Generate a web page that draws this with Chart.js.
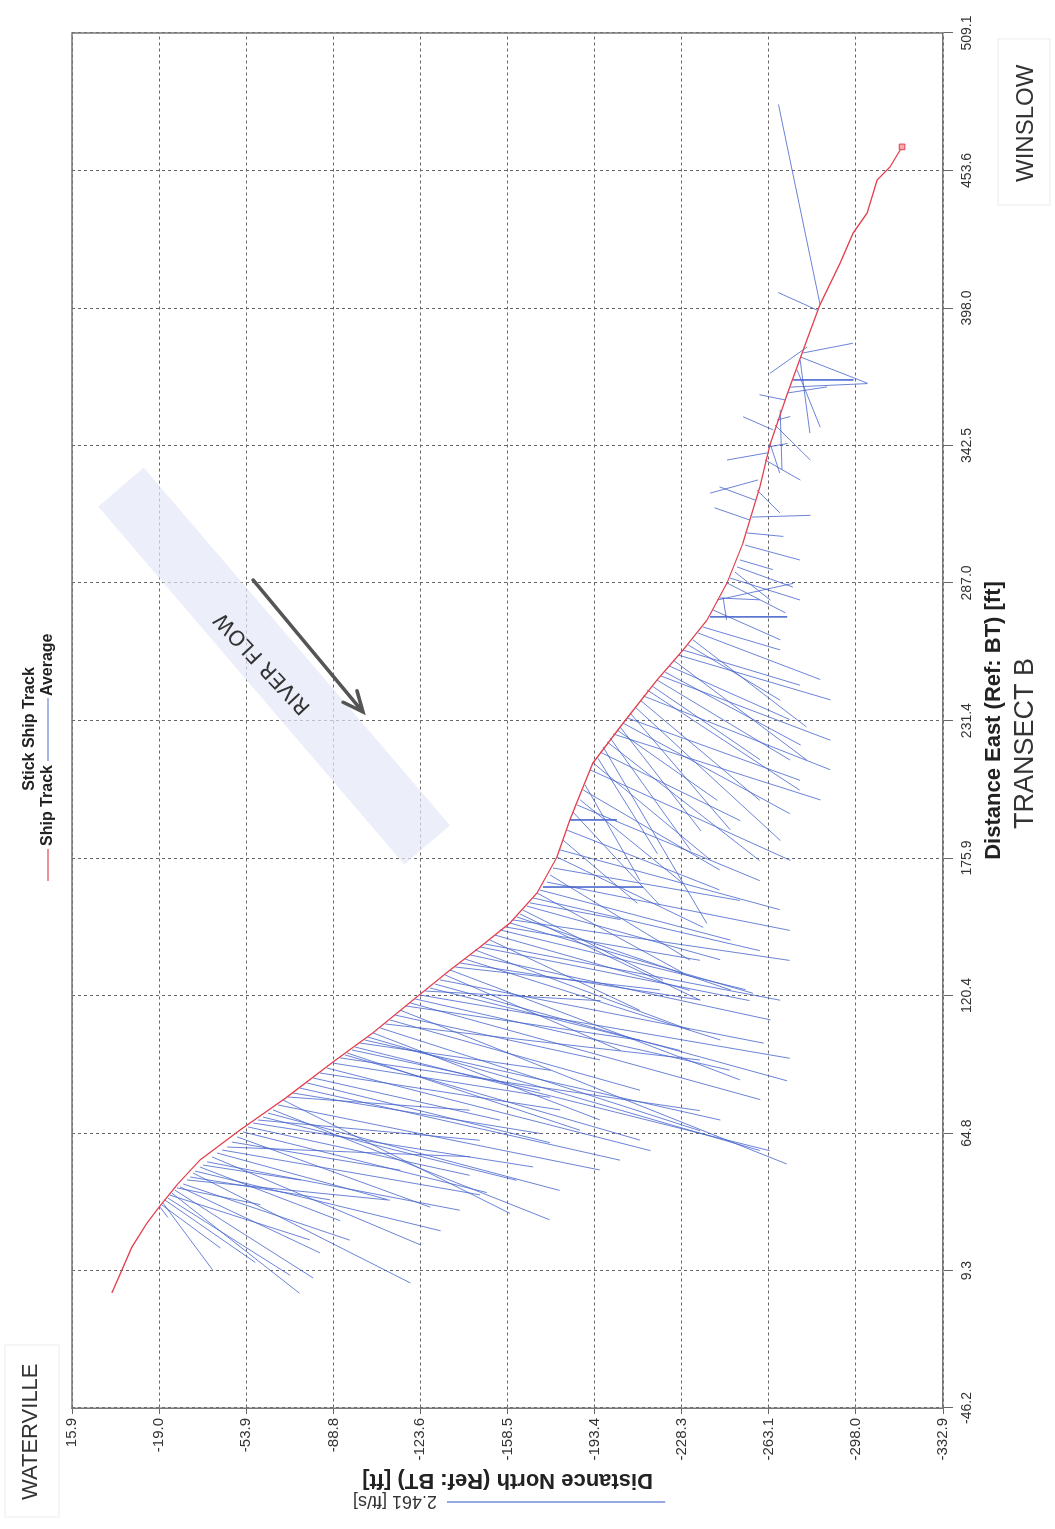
<!DOCTYPE html>
<html>
<head>
<meta charset="utf-8">
<title>Stick Ship Track - Transect B</title>
<script src="https://cdn.jsdelivr.net/npm/chart.js@4.4.0/dist/chart.umd.min.js"></script>
<style>
  html, body { margin: 0; padding: 0; background: #fff; }
  body { width: 1055px; height: 1529px; overflow: hidden; position: relative; }
  /* the scanned plot is turned a quarter turn, so the chart is drawn upright and rotated */
  #wrap { position: absolute; left: -237px; top: 237px; width: 1529px; height: 1055px; transform: rotate(-90deg); }
</style>
</head>
<body>
<div id="wrap"><canvas id="stickChart" width="1529" height="1055"></canvas></div>
<script>
const FONT = "'Liberation Sans Narrow', 'Liberation Sans', Arial, sans-serif";

// axis ticks [ft]
const eastTicks = [-46.2, 9.3, 64.8, 120.4, 175.9, 231.4, 287.0, 342.5, 398.0, 453.6, 509.1];
const northTicks = [-332.9, -298.0, -263.1, -228.3, -193.4, -158.5, -123.6, -88.8, -53.9, -19.0, 15.9];

// ship track (ref: bottom track) [ft]
const trackEast = [0.3, 9.5, 18.8, 28.5, 35.4, 43.9, 54.0, 66.1, 79.4, 93.5,
  105.3, 118.6, 130.7, 140.0, 149.7, 161.8, 176.3, 191.3, 201.4, 214.3,
  230.4, 247.8, 259.9, 272.0, 287.0, 303.1, 325.8, 342.7, 362.9, 385.1,
  399.3, 416.2, 428.3, 436.4, 449.7, 455.0, 463.1];
const trackNorth = [-0.1, -4.1, -8.1, -14.1, -19.3, -26.1, -35.4, -51.4, -70.2, -88.6,
  -104.6, -120.7, -135.5, -147.5, -159.5, -170.3, -178.3, -183.5, -187.5, -192.7,
  -204.8, -218.4, -228.8, -238.4, -246.4, -252.8, -259.6, -263.6, -270.4, -278.4,
  -283.6, -291.7, -296.9, -302.5, -306.5, -311.7, -316.5];

// stick origins on the track [ft]
const stickEast = [35.0, 35.8, 36.6, 37.8, 38.6, 39.8, 40.6, 41.8, 42.7, 43.1,
  44.3, 45.9, 47.1, 48.7, 49.5, 51.1, 51.9, 53.2, 55.2, 56.8,
  58.0, 59.2, 61.2, 63.3, 65.3, 67.3, 68.9, 70.1, 71.3, 72.9,
  74.2, 76.2, 78.2, 79.4, 81.0, 83.0, 85.1, 87.1, 89.1, 91.1,
  93.1, 95.2, 96.4, 97.2, 98.4, 99.6, 101.2, 102.4, 103.6, 105.3,
  107.3, 108.9, 110.5, 112.5, 114.5, 116.2, 117.4, 119.0, 120.6, 122.2,
  123.4, 125.0, 126.7, 128.7, 130.7, 131.9, 133.5, 135.1, 136.8, 138.8,
  140.0, 141.2, 142.8, 144.8, 146.9, 148.1, 149.7, 150.9, 152.1, 153.3,
  154.9, 156.5, 157.8, 159.8, 161.8, 163.0, 164.2, 166.2, 169.1, 171.9,
  176.3, 179.2, 183.2, 187.2, 191.3, 194.5, 197.3, 199.4, 203.4, 205.4,
  211.5, 214.3, 216.7, 218.7, 220.8, 222.8, 224.4, 226.0, 227.6, 228.8,
  230.4, 232.5, 234.5, 236.9, 239.7, 241.4, 243.8, 245.4, 247.8, 249.4,
  251.0, 253.5, 255.9, 257.9, 259.9, 262.0, 264.0, 266.8, 269.2, 273.3,
  276.1, 280.1, 280.9, 281.3, 287.0, 289.0, 291.4, 293.5, 296.3, 302.3,
  307.2, 312.4, 313.6, 320.5, 324.5, 328.6, 336.7, 339.5, 341.9, 343.5,
  348.8, 350.8, 352.8, 356.9, 360.9, 363.7, 366.1, 369.0, 373.0, 377.0,
  378.3, 379.9, 382.3, 397.2, 399.3];
const stickNorth = [-19.3, -20.1, -20.5, -21.3, -22.5, -23.3, -24.1, -25.3, -26.1, -27.3,
  -28.6, -30.1, -31.4, -32.6, -33.4, -35.4, -36.6, -38.2, -40.2, -42.2,
  -44.2, -46.2, -48.2, -50.2, -52.6, -54.6, -56.6, -58.6, -60.6, -62.6,
  -64.6, -66.6, -68.6, -70.6, -72.6, -75.4, -78.2, -80.6, -83.4, -86.2,
  -88.6, -91.4, -93.4, -94.2, -96.2, -97.4, -99.4, -101.4, -102.6, -104.6,
  -107.5, -109.5, -111.5, -113.5, -115.5, -117.5, -119.5, -121.5, -123.5, -125.5,
  -127.5, -129.5, -131.5, -133.5, -135.5, -137.5, -139.5, -141.5, -143.5, -145.5,
  -147.5, -149.5, -151.5, -153.5, -155.5, -157.5, -159.5, -160.7, -162.3, -163.5,
  -164.7, -166.3, -167.5, -168.7, -170.3, -171.5, -172.7, -174.3, -175.5, -176.7,
  -178.3, -179.5, -180.7, -182.3, -183.5, -184.7, -186.4, -187.6, -188.8, -189.6,
  -191.6, -192.8, -194.4, -195.6, -196.8, -198.4, -199.6, -200.8, -202.4, -203.6,
  -204.8, -206.4, -207.6, -209.6, -211.6, -212.8, -214.4, -216.4, -218.4, -220.0,
  -221.6, -223.2, -224.8, -226.8, -228.8, -230.8, -232.8, -234.8, -236.8, -239.6,
  -240.8, -242.4, -243.6, -244.8, -246.4, -247.6, -249.6, -250.4, -251.6, -253.6,
  -254.4, -255.6, -256.4, -257.6, -258.4, -258.8, -261.6, -262.4, -262.8, -263.6,
  -264.9, -265.6, -266.4, -267.7, -269.7, -270.5, -271.7, -272.9, -274.5, -275.7,
  -275.7, -276.9, -278.5, -282.5, -283.7];

// depth averaged velocity components [ft/s]
const stickVE = [-0.12, -0.49, -0.76, -0.71, -0.88, -0.51, -1.14, -1.00, -0.19, -0.75,
  -0.64, -0.23, -0.26, -1.25, -0.68, -0.61, -0.17, -0.55, -1.00, -0.53,
  -0.51, -0.11, -0.32, -0.80, -0.69, -0.55, -0.50, -0.23, -0.72, -0.88,
  -1.25, -0.74, -1.29, -0.15, -0.46, -0.82, -0.68, -0.48, -0.42, -0.94,
  -0.39, -0.60, -0.97, -0.88, -0.46, -1.18, -0.31, -0.91, -1.29, -0.99,
  -1.17, -0.41, -0.80, -0.51, -1.75, -0.39, -1.10, -0.81, -0.72, -0.11,
  -0.71, -1.10, -0.72, -0.86, -1.25, -0.26, -0.42, -0.92, -0.74, -0.91,
  -0.61, -0.64, -0.80, -0.63, -0.68, -0.38, -0.80, -0.46, -0.83, -0.98,
  -0.80, -0.61, -0.19, -0.60, -0.91, -0.57, 0.00, -0.55, -0.97, -0.37,
  -0.80, -0.68, -0.72, -0.68, 0.00, -1.06, -0.86, -0.95, -0.91, -1.09,
  -1.03, -1.10, -1.10, -0.78, -2.01, -1.35, -1.28, -0.75, -0.80, -1.18,
  -1.03, -0.71, -1.33, -1.52, -1.14, -0.84, -1.14, -0.84, -0.91, -0.73,
  -0.83, -0.61, -1.14, -0.51, -0.40, -0.63, -0.99, -0.53, -0.26, 0.00,
  -0.34, 0.19, -0.02, -0.26, -0.34, -0.25, -0.32, -0.23, -0.11, -0.17,
  -0.04, 0.14, 0.02, 0.15, -0.26, -0.15, -0.23, -0.08, 0.04, -0.34,
  0.15, -0.40, 0.04, -0.68, 0.06, 0.07, 0.04, 0.00, -0.65, -0.83,
  -0.30, 0.11, -0.30, 0.20, 2.28];
const stickVN = [-0.09, -0.66, -0.56, -1.02, -1.38, -1.58, -1.44, -1.56, -0.94, -1.58,
  -1.88, -2.29, -1.58, -2.45, -2.77, -1.58, -1.10, -2.85, -2.35, -1.92,
  -2.91, -2.74, -1.90, -2.18, -2.75, -2.50, -3.16, -2.50, -2.86, -3.29,
  -3.12, -3.63, -2.56, -2.05, -2.79, -3.61, -2.74, -2.11, -2.71, -3.65,
  -2.45, -4.06, -3.33, -2.63, -2.12, -4.68, -2.15, -4.01, -4.42, -2.56,
  -3.61, -3.55, -2.82, -2.31, -4.36, -2.65, -3.95, -3.55, -4.17, -1.98,
  -2.82, -3.97, -3.65, -1.98, -3.27, -2.31, -2.71, -2.88, -3.39, -2.42,
  -3.04, -3.33, -1.69, -2.20, -2.77, -2.20, -2.74, -3.12, -2.41, -2.03,
  -1.58, -2.18, -1.02, -2.56, -1.65, -2.15, -1.13, -2.74, -1.58, -2.11,
  -1.65, -2.48, -0.84, -1.72, -0.53, -0.98, -2.06, -1.16, -1.54, -0.62,
  -2.26, -1.32, -0.68, -1.58, -1.17, -1.72, -0.91, -2.34, -1.13, -0.91,
  -1.88, -1.95, -1.13, -1.64, -1.35, -2.11, -1.72, -1.22, -1.50, -1.91,
  -1.53, -1.36, -1.51, -1.72, -1.32, -1.04, -1.28, -1.38, -0.87, -0.87,
  -0.76, -0.86, -0.45, -0.04, -0.66, -0.79, -0.40, -0.63, -0.37, -0.62,
  -0.41, 0.40, -0.66, 0.40, -0.26, 0.54, -0.40, 0.45, -0.22, -0.11,
  0.34, -0.40, -0.15, -0.02, 0.29, -0.45, -0.87, -0.68, -0.26, -0.11,
  -0.76, -0.56, 0.42, 0.44, 0.47];

const refSpeed = 2.461;   // ft/s, scale bar
const stickScale = 35.5;  // ft of stick per ft/s

const trackPts = trackEast.map((e, i) => ({ x: e, y: trackNorth[i] }));
const stickPts = [];
stickEast.forEach((e, i) => {
  stickPts.push({ x: e, y: stickNorth[i] });
  stickPts.push({ x: e + stickVE[i] * stickScale, y: stickNorth[i] + stickVN[i] * stickScale });
  stickPts.push({ x: e, y: null });
});

// hand annotations on the scan (data units)
const flowBand = { east: [325.7, 181.2], north: [-3.7, -126.3], width: 60 };
const flowArrow = { east: [288.2, 234.9], north: [-56.6, -100.6] };
const flowLabel = { east: 254.7, north: -60.6, angle: -43 };

const overlay = {
  id: 'overlay',
  beforeDatasetsDraw(chart) {
    const { ctx, scales: { x, y } } = chart;
    const x1 = x.getPixelForValue(flowBand.east[0]), y1 = y.getPixelForValue(flowBand.north[0]);
    const x2 = x.getPixelForValue(flowBand.east[1]), y2 = y.getPixelForValue(flowBand.north[1]);
    ctx.save();
    ctx.translate(x1, y1);
    ctx.rotate(Math.atan2(y2 - y1, x2 - x1));
    ctx.fillStyle = 'rgba(228, 231, 248, 0.7)';
    ctx.fillRect(0, -flowBand.width / 2, Math.hypot(x2 - x1, y2 - y1), flowBand.width);
    ctx.restore();
  },
  afterDraw(chart) {
    const { ctx, chartArea: a, scales: { x, y } } = chart;
    ctx.save();

    // frame top and right
    ctx.strokeStyle = '#777';
    ctx.lineWidth = 1.5;
    ctx.beginPath();
    ctx.moveTo(a.left, a.top);
    ctx.lineTo(a.right, a.top);
    ctx.lineTo(a.right, a.bottom);
    ctx.stroke();

    // river flow label and arrow
    ctx.save();
    ctx.translate(x.getPixelForValue(flowLabel.east), y.getPixelForValue(flowLabel.north));
    ctx.rotate(flowLabel.angle * Math.PI / 180);
    ctx.font = "21px 'DejaVu Sans', sans-serif";
    ctx.fillStyle = '#333';
    ctx.textAlign = 'center';
    ctx.textBaseline = 'middle';
    ctx.fillText('RIVER FLOW', 0, 0);
    ctx.restore();

    const ax1 = x.getPixelForValue(flowArrow.east[0]), ay1 = y.getPixelForValue(flowArrow.north[0]);
    const ax2 = x.getPixelForValue(flowArrow.east[1]), ay2 = y.getPixelForValue(flowArrow.north[1]);
    const ang = Math.atan2(ay2 - ay1, ax2 - ax1);
    ctx.strokeStyle = '#555';
    ctx.lineWidth = 3.5;
    ctx.lineCap = 'round';
    ctx.beginPath();
    ctx.moveTo(ax1, ay1);
    ctx.lineTo(ax2, ay2);
    ctx.moveTo(ax2 - 22 * Math.cos(ang - 0.42), ay2 - 22 * Math.sin(ang - 0.42));
    ctx.lineTo(ax2, ay2);
    ctx.lineTo(ax2 - 22 * Math.cos(ang + 0.42), ay2 - 22 * Math.sin(ang + 0.42));
    ctx.stroke();

    // legend
    ctx.fillStyle = '#222';
    ctx.textBaseline = 'middle';
    ctx.font = 'bold 16px ' + FONT;
    ctx.textAlign = 'center';
    ctx.fillText('Stick Ship Track', 800, 30);
    ctx.textAlign = 'left';
    ctx.lineWidth = 1.2;
    ctx.lineCap = 'butt';
    ctx.strokeStyle = '#e2404f';
    ctx.beginPath(); ctx.moveTo(648, 48); ctx.lineTo(680, 48); ctx.stroke();
    ctx.fillText('Ship Track', 683, 48);
    const w1 = ctx.measureText('Ship Track').width;
    ctx.strokeStyle = '#4f6fd0';
    ctx.beginPath(); ctx.moveTo(687 + w1, 48); ctx.lineTo(750 + w1, 48); ctx.stroke();
    ctx.fillText('Average', 752 + w1, 48);

    // place names
    ctx.fillStyle = '#333';
    ctx.font = '22px ' + FONT;
    ctx.fillText('WATERVILLE', 29, 31);
    ctx.font = '24px ' + FONT;
    ctx.fillText('WINSLOW', 1347, 1026);
    ctx.font = '27px ' + FONT;
    ctx.fillText('TRANSECT B', 700, 1026);
    ctx.strokeStyle = '#ececec';
    ctx.lineWidth = 1;
    ctx.strokeRect(12, 5, 172, 54);
    ctx.strokeRect(1324, 998, 166, 52);

    // velocity scale bar (length of refSpeed on the stick scale)
    const len = y.getPixelForValue(0) - y.getPixelForValue(refSpeed * stickScale);
    ctx.strokeStyle = '#4f6fd0';
    ctx.lineWidth = 1.2;
    ctx.beginPath(); ctx.moveTo(27, 447); ctx.lineTo(27, 447 + len); ctx.stroke();
    ctx.save();
    ctx.translate(28, 437);
    ctx.rotate(-Math.PI / 2);
    ctx.font = '18px ' + FONT;
    ctx.fillStyle = '#333';
    ctx.textAlign = 'left';
    ctx.fillText(refSpeed + ' [ft/s]', 0, 0);
    ctx.restore();

    ctx.restore();
  }
};

const ctx = document.getElementById('stickChart').getContext('2d');
const stickChart = new Chart(ctx, {
  type: 'scatter',
  data: {
    datasets: [{
      label: 'Ship Track',
      data: trackPts,
      showLine: true,
      borderColor: '#e2404f',
      borderWidth: 1.3,
      pointStyle: 'rect',
      pointRadius: c => c.dataIndex === trackPts.length - 1 ? 4 : 0,
      pointBackgroundColor: '#f7a8b0',
      pointBorderColor: '#e2404f',
      pointBorderWidth: 1,
      order: 0
    }, {
      label: 'Average',
      data: stickPts,
      showLine: true,
      spanGaps: false,
      borderColor: 'rgba(70, 100, 205, 0.8)',
      borderWidth: 1,
      pointRadius: 0,
      order: 1
    }]
  },
  options: {
    responsive: false,
    animation: false,
    layout: { padding: { top: 72, right: 33, bottom: 0, left: 0 } },
    plugins: {
      legend: { display: false },
      tooltip: { enabled: false }
    },
    scales: {
      x: {
        type: 'linear',
        position: 'bottom',
        min: eastTicks[0],
        max: eastTicks[eastTicks.length - 1],
        afterBuildTicks: s => { s.ticks = eastTicks.map(v => ({ value: v })); },
        afterFit: s => { s.height = 112; },
        ticks: {
          callback: v => v.toFixed(1),
          font: { family: FONT, size: 14 },
          color: '#333',
          padding: 6,
          maxRotation: 0,
          autoSkip: false
        },
        grid: { color: '#666', lineWidth: 1, tickLength: 10, tickColor: '#666', tickWidth: 1, tickBorderDash: [] },
        border: { display: true, color: '#777', width: 1.5, dash: [3, 3] },
        title: {
          display: true,
          text: 'Distance East (Ref: BT) [ft]',
          font: { family: FONT, size: 22, weight: 'bold' },
          color: '#222',
          padding: { top: 0, bottom: 48 }
        }
      },
      y: {
        type: 'linear',
        position: 'left',
        min: northTicks[0],
        max: northTicks[northTicks.length - 1],
        afterBuildTicks: s => { s.ticks = northTicks.map(v => ({ value: v })); },
        afterFit: s => { s.width = 121; },
        ticks: {
          callback: v => v.toFixed(1),
          font: { family: FONT, size: 15 },
          color: '#333',
          padding: 4,
          autoSkip: false
        },
        grid: { color: '#666', lineWidth: 1, tickLength: 6, tickColor: '#666', tickWidth: 1, tickBorderDash: [] },
        border: { display: true, color: '#777', width: 1.5, dash: [3, 3] },
        title: {
          display: true,
          text: 'Distance North (Ref: BT) [ft]',
          font: { family: FONT, size: 22, weight: 'bold' },
          color: '#222',
          padding: { top: 36, bottom: 0 }
        }
      }
    }
  },
  plugins: [overlay]
});
</script>
</body>
</html>
